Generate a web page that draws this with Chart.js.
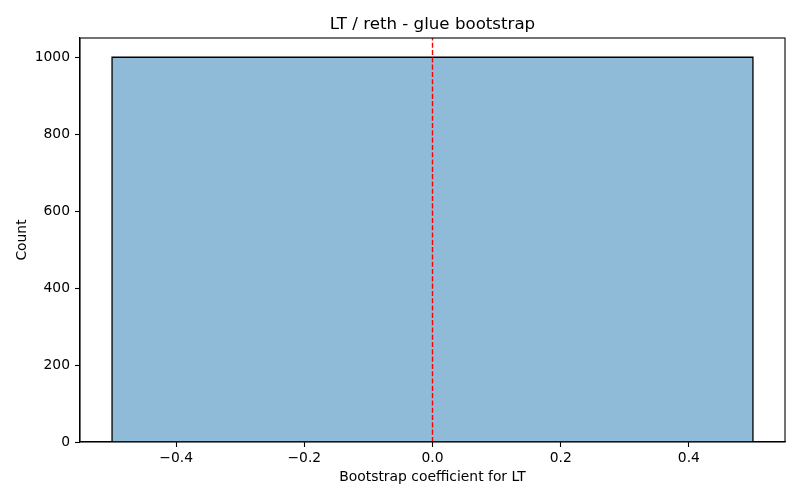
<!DOCTYPE html>
<html>
<head>
<meta charset="utf-8">
<script src="https://cdn.jsdelivr.net/npm/chart.js@4/dist/chart.umd.min.js"></script>
<style>
html,body{margin:0;padding:0;background:#fff;}
canvas{display:block;}
</style>
</head>
<body>
<canvas id="c" width="800" height="500"></canvas>
<script>
// Histogram data
const binEdges = [-0.5, 0.5];
const binCounts = [1000];
const refLineX = 0;
const xTicks = [-0.4, -0.2, 0.0, 0.2, 0.4];
const yTicks = [0, 200, 400, 600, 800, 1000];
const xRange = [-0.55, 0.55];
const yRange = [0, 1050];

const titleText = 'LT / reth - glue bootstrap';
const xLabel = 'Bootstrap coefficient for LT';
const yLabel = 'Count';

// Build histogram outline from bin edges / counts
const histPts = [];
for (let i = 0; i < binCounts.length; i++) {
  histPts.push({x: binEdges[i], y: 0});
  histPts.push({x: binEdges[i], y: binCounts[i]});
  histPts.push({x: binEdges[i+1], y: binCounts[i]});
  histPts.push({x: binEdges[i+1], y: 0});
}
const refPts = [{x: refLineX, y: yRange[0]}, {x: refLineX, y: yRange[1]}];

const FONT = 'DejaVu Sans';
const fmtX = v => (v < 0 ? '\u2212' + Math.abs(v).toFixed(1) : v.toFixed(1));

const frame = {
  id: 'frame',
  afterDatasetsDraw(chart) {
    const {ctx, chartArea: a} = chart;
    ctx.save();
    ctx.strokeStyle = '#000';
    ctx.lineWidth = 1.1;
    ctx.strokeRect(a.left, a.top, a.right - a.left, a.bottom - a.top);
    ctx.restore();
  }
};

new Chart(document.getElementById('c'), {
  type: 'line',
  data: {
    datasets: [
      {
        data: refPts,
        borderColor: '#ff0000',
        borderWidth: 1.4,
        borderDash: [5.1, 2.2],
        pointRadius: 0,
        fill: false,
        order: 0
      },
      {
        data: histPts,
        borderColor: '#000000',
        borderWidth: 1.3,
        backgroundColor: 'rgba(31,119,180,0.5)',
        pointRadius: 0,
        tension: 0,
        fill: 'origin',
        order: 1
      }
    ]
  },
  plugins: [frame],
  options: {
    responsive: false,
    devicePixelRatio: 1,
    animation: false,
    layout: {padding: {left: 0, right: 15, top: 0, bottom: 0}},
    plugins: {
      legend: {display: false},
      tooltip: {enabled: false},
      title: {
        display: true,
        text: titleText,
        fullSize: false,
        color: '#000',
        font: {family: FONT, size: 16.67, weight: 'normal'},
        padding: {top: 15, bottom: 3}
      }
    },
    scales: {
      x: {
        type: 'linear',
        min: xRange[0],
        max: xRange[1],
        afterBuildTicks: s => { s.ticks = xTicks.map(v => ({value: v})); },
        afterFit: s => { s.height = 58; },
        grid: {drawOnChartArea: false, drawTicks: true, tickLength: 5, color: '#000', tickWidth: 1.1},
        border: {display: true, color: '#000', width: 1.1},
        ticks: {color: '#000', font: {family: FONT, size: 13.89}, padding: 3, maxRotation: 0, callback: v => fmtX(v)},
        title: {display: true, text: xLabel, color: '#000', font: {family: FONT, size: 13.89}, padding: {top: 0, bottom: 14}}
      },
      y: {
        type: 'linear',
        min: yRange[0],
        max: yRange[1],
        afterBuildTicks: s => { s.ticks = yTicks.map(v => ({value: v})); },
        afterFit: s => { s.width = 80; },
        grid: {drawOnChartArea: false, drawTicks: true, tickLength: 5, color: '#000', tickWidth: 1.1},
        border: {display: true, color: '#000', width: 1.1},
        ticks: {color: '#000', font: {family: FONT, size: 13.89}, padding: 5, callback: v => String(v)},
        title: {display: true, text: yLabel, color: '#000', font: {family: FONT, size: 13.89}, padding: {top: 14, bottom: 0}}
      }
    }
  }
});
</script>
</body>
</html>
